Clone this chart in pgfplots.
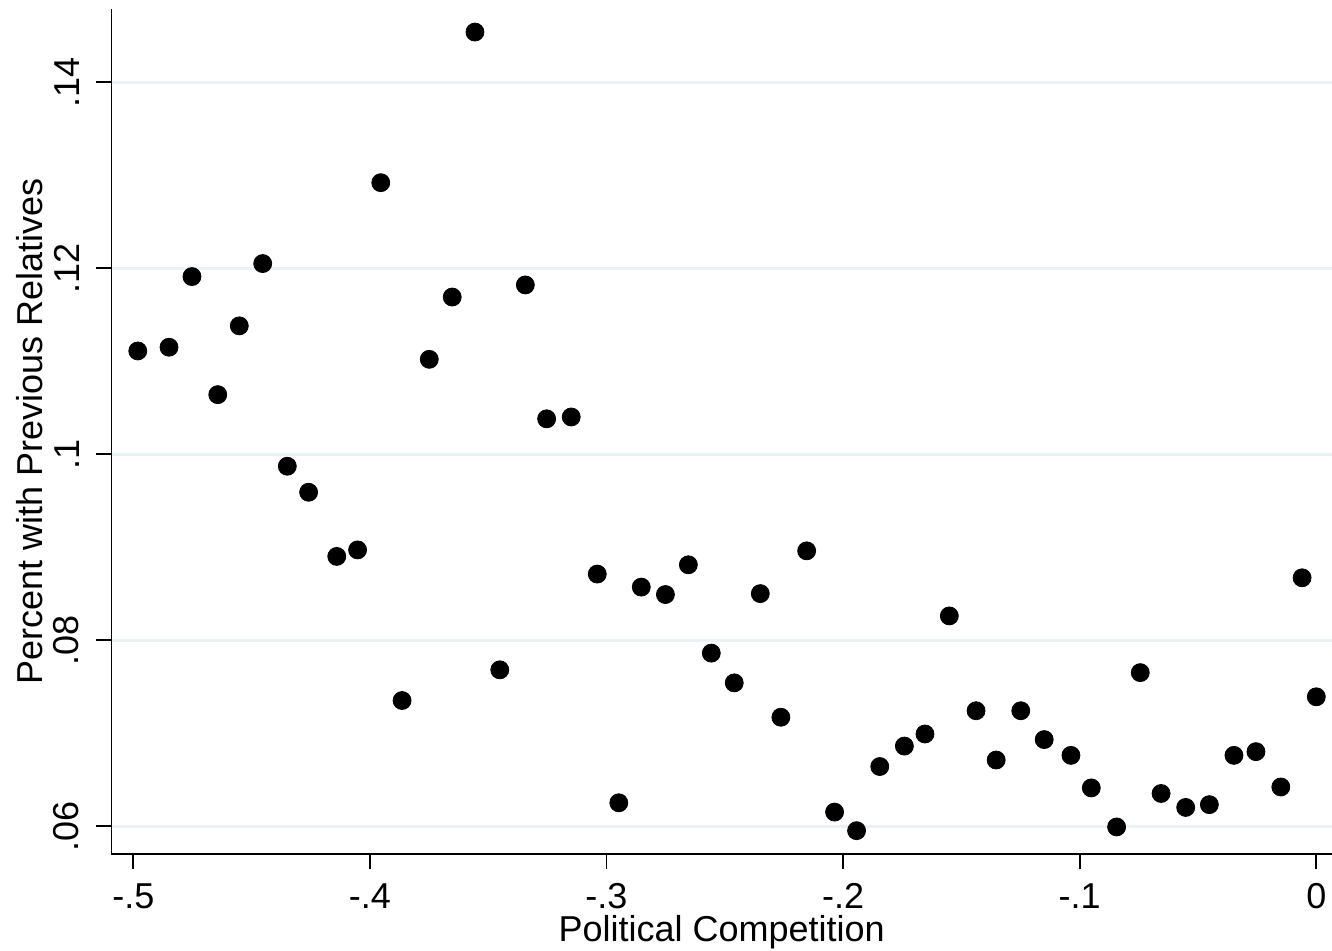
\documentclass[border=0pt]{standalone}
\usepackage{pgfplots}
\pgfplotsset{compat=1.18}
\usepackage{fontspec}
\setmainfont{Liberation Sans}
\definecolor{gridc}{RGB}{234,242,243}
\newcommand{\chartfont}{\fontsize{18}{21}\selectfont}
\begin{document}
\begin{tikzpicture}
\begin{axis}[
  scale only axis,
  width=610.25pt, height=422.5pt,
  xmin=-0.50921, xmax=0.00664,
  ymin=0.05699, ymax=0.14788,
  axis lines=left,
  axis line style={-, line width=0.9pt, black},
  tick align=outside,
  major tick length=7.5pt,
  tick style={black, line width=0.9pt},
  xtick={-0.5,-0.4,-0.3,-0.2,-0.1,0},
  xticklabels={-.5,-.4,-.3,-.2,-.1,0},
  ytick={0.06,0.08,0.1,0.12,0.14},
  yticklabels={.06,.08,.1,.12,.14},
  ymajorgrids,
  grid style={line width=1.5pt, gridc},
  tick label style={font=\chartfont},
  xticklabel style={anchor=north, inner sep=0pt},
  yticklabel style={rotate=90, anchor=south, inner sep=0pt},
  xticklabel shift=7pt,
  yticklabel shift=8.5pt,
  label style={font=\chartfont},
  xlabel={Political Competition},
  ylabel={Percent with Previous Relatives},
  xlabel style={at={(axis description cs:0.5,-0.09231)}, anchor=center, inner sep=0pt},
  ylabel style={at={(axis description cs:-0.06695,0.5)}, anchor=center, inner sep=0pt},
  clip=false,
]
\addplot[only marks, mark=*, mark size=4.5pt, mark options={fill=black, draw=black}] table {
x y
-0.4981 0.1111
-0.4849 0.1115
-0.4752 0.1191
-0.4643 0.1064
-0.4552 0.1138
-0.4453 0.1205
-0.4349 0.0987
-0.4259 0.0959
-0.4140 0.0890
-0.4052 0.0897
-0.3954 0.1292
-0.3864 0.0735
-0.3749 0.1102
-0.3652 0.1169
-0.3556 0.1454
-0.3451 0.0768
-0.3343 0.1182
-0.3253 0.1038
-0.3149 0.1040
-0.3039 0.0871
-0.2948 0.0625
-0.2853 0.0857
-0.2751 0.0849
-0.2654 0.0881
-0.2557 0.0786
-0.2460 0.0754
-0.2350 0.0850
-0.2263 0.0717
-0.2154 0.0896
-0.2036 0.0615
-0.1943 0.0595
-0.1845 0.0664
-0.1741 0.0686
-0.1654 0.0699
-0.1551 0.0826
-0.1438 0.0724
-0.1353 0.0671
-0.1249 0.0724
-0.1150 0.0693
-0.1037 0.0676
-0.0951 0.0641
-0.0844 0.0599
-0.0744 0.0765
-0.0656 0.0635
-0.0552 0.0620
-0.0452 0.0623
-0.0348 0.0676
-0.0255 0.0680
-0.0150 0.0642
-0.0060 0.0867
0.0000 0.0739
};
\end{axis}
\pgfresetboundingbox
\path[use as bounding box] ([xshift=-55.75pt,yshift=-48pt]current axis.south west) rectangle ++(666pt,475pt);
\end{tikzpicture}
\end{document}
